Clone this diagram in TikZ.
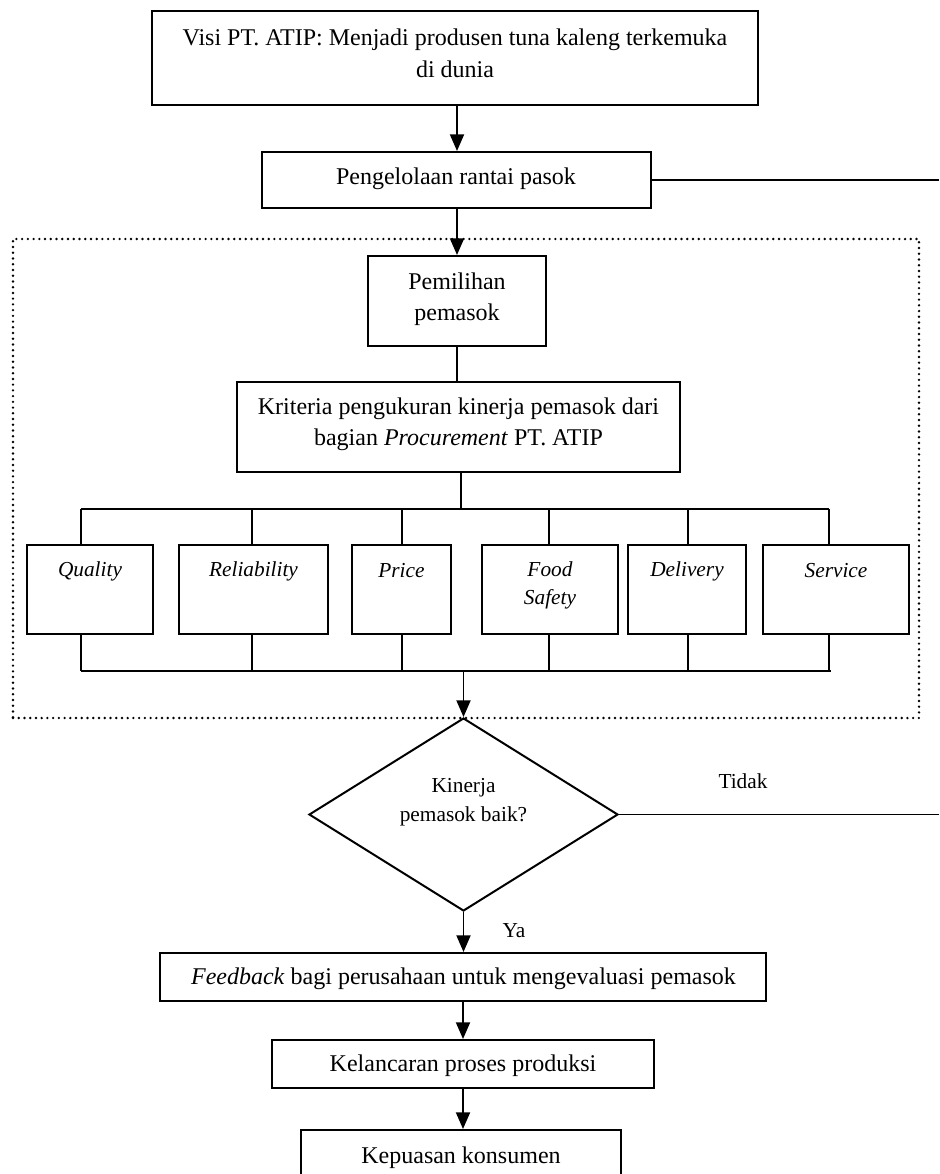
\documentclass[tikz,border=0pt]{standalone}
\usepackage{fontspec}
\setmainfont{Liberation Serif}
\usetikzlibrary{arrows.meta,shapes.geometric,fit}
\begin{document}
\begin{tikzpicture}[x=0.75pt,y=-0.75pt,
  boxst/.style={draw, line width=1.5pt, inner sep=0pt, rectangle},
  txt/.style={align=center, inner sep=0pt, font=\fontsize{18}{23.25}\selectfont},
  crit/.style={align=center, inner sep=0pt, font=\fontsize{16}{21}\selectfont\itshape},
  lbl/.style={align=center, inner sep=0pt, font=\fontsize{16}{21.75}\selectfont},
  conn/.style={line width=1.3pt},
  arr/.style={line width=1.4pt, -{Triangle[length=12.5pt,width=10.5pt]}},
  dotbox/.style={draw, line width=2pt, line cap=round, dash pattern=on 0pt off 4.3pt, inner sep=0pt, rectangle}]
\useasboundingbox (0,0) rectangle (939,1174);

% main boxes
\node[boxst, fit={(152,11) (758,105)}] (visi) {};
\node[txt, font=\fontsize{18}{24}\selectfont] (visiT) at (455,53) {Visi PT. ATIP: Menjadi produsen tuna kaleng terkemuka\\di dunia};
\node[boxst, fit={(262,152) (651,208)}] (peng) {};
\node[txt] (pengT) at (456,179) {Pengelolaan rantai pasok};

% dotted group
\node[dotbox, fit={(13,239) (919,718)}] (grp) {};

\node[boxst, fit={(368,256) (546,346)}] (pil) {};
\node[txt] (pilT) at (457,299) {Pemilihan\\pemasok};
\node[boxst, fit={(237,382) (680,472)}] (krit) {};
\node[txt] (kritT) at (458.5,424) {Kriteria pengukuran kinerja pemasok dari\\bagian \textit{Procurement} PT. ATIP};

% criteria boxes
\node[boxst, fit={(27,545) (153,634)}] (q) {};
\node[crit] (qT) at (90,571) {Quality};
\node[boxst, fit={(179,545) (328,634)}] (r) {};
\node[crit] (rT) at (253.5,571) {Reliability};
\node[boxst, fit={(352,545) (451,634)}] (p) {};
\node[crit] (pT) at (401.5,571) {Price};
\node[boxst, fit={(482,545) (618,634)}] (f) {};
\node[crit] (fT) at (550,585) {Food\\Safety};
\node[boxst, fit={(628,545) (746,634)}] (d) {};
\node[crit] (dT) at (687,571) {Delivery};
\node[boxst, fit={(763,545) (909,634)}] (s) {};
\node[crit] (sT) at (836,571) {Service};

% decision
\node[draw, diamond, line width=1.5pt, inner sep=0pt, minimum width=309*0.75pt, minimum height=193*0.75pt] (dec) at (463.5,814.5) {};
\node[lbl] (decT) at (463.5,802) {Kinerja\\pemasok baik?};
\node[lbl] (tidak) at (743,781) {Tidak};
\node[lbl] (ya) at (514,931) {Ya};

% lower boxes
\node[boxst, fit={(160,953) (766,1001)}] (fb) {};
\node[txt] (fbT) at (463.5,979) {\textit{Feedback} bagi perusahaan untuk mengevaluasi pemasok};
\node[boxst, fit={(272,1040) (654,1088)}] (kel) {};
\node[txt] (kelT) at (463,1066) {Kelancaran proses produksi};
\node[boxst, fit={(301,1130) (621,1184)}] (kep) {};
\node[txt] (kepT) at (461,1158) {Kepuasan konsumen};

% coordinates
\coordinate (rt1) at (939,180);
\coordinate (rt2) at (939,814.5);
\coordinate (busT) at (461,509);
\coordinate (busTL) at (81,509);
\coordinate (busTR) at (829,509);
\coordinate (busBL) at (81,671);
\coordinate (busBR) at (831,671);
\coordinate (busB) at (463.5,671);
\coordinate (qx) at (81,0);
\coordinate (rx) at (252,0);
\coordinate (px) at (402,0);
\coordinate (fx) at (549,0);
\coordinate (dx) at (688,0);
\coordinate (sx) at (829,0);

% connectors
\draw[arr] (visi.south -| pil.north) -- (peng.north -| pil.north);
\draw[conn] (peng.east) -- (rt1);
\draw[arr] (peng.south -| pil.north) -- (pil.north);
\draw[conn] (pil.south) -- (pil.south |- krit.north);
\draw[conn] (krit.south -| busT) -- (busT);
\draw[conn] (busTL) -- (busTR);
\draw[conn] (busBL) -- (busBR);
\foreach \b/\x in {q/qx, r/rx, p/px, f/fx, d/dx, s/sx}{
  \draw[conn] (busTL -| \x) -- (\b.north -| \x);
  \draw[conn] (\b.south -| \x) -- (busBL -| \x);
}
\draw[arr] (busB) -- (dec.north);
\draw[conn] (dec.east) -- (rt2);
\draw[arr] (dec.south) -- (fb.north -| dec.south);
\draw[arr] (fb.south -| kel.north) -- (kel.north);
\draw[arr] (kel.south) -- (kep.north -| kel.south);
\end{tikzpicture}
\end{document}
